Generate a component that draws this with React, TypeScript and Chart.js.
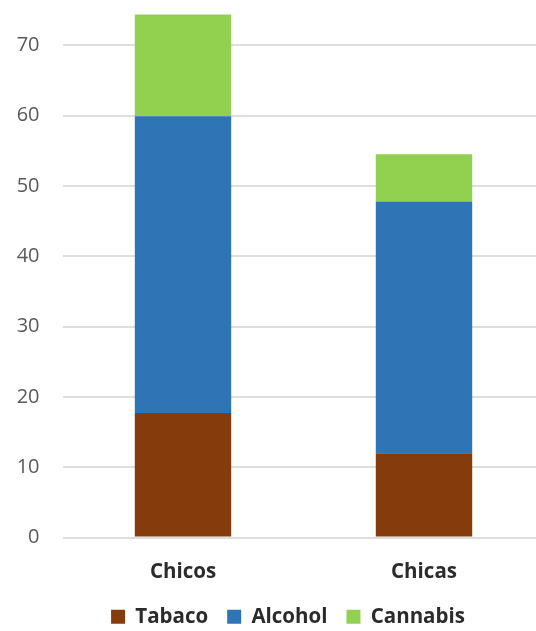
import React, { useEffect, useRef } from "react";
import { Chart, registerables } from "chart.js";

Chart.register(...registerables);

// Categories and stacked series (percent)
const categories = ["Chicos", "Chicas"];
const seriesNames = ["Tabaco", "Alcohol", "Cannabis"];
const tabaco = [17.7, 12.0];
const alcohol = [42.2, 35.8];
const cannabis = [14.5, 6.7];
const seriesColors = ["#843C0C", "#2E75B6", "#92D050"];

const yMin = 0;
const yMax = 80;
const yStep = 10;

const FONT = "'Open Sans', sans-serif";

export default function App() {
  const canvasRef = useRef<HTMLCanvasElement>(null);

  useEffect(() => {
    if (!canvasRef.current) return;
    const values = [tabaco, alcohol, cannabis];
    const chart = new Chart(canvasRef.current, {
      type: "bar",
      data: {
        labels: categories,
        datasets: seriesNames.map((name, i) => ({
          label: name,
          data: values[i],
          backgroundColor: seriesColors[i],
          borderWidth: 0,
          yAxisID: "y",
          categoryPercentage: 1,
          barPercentage: 0.4,
        })),
      },
      options: {
        animation: false,
        responsive: true,
        maintainAspectRatio: false,
        events: [],
        layout: { padding: { top: 20, left: 0, right: 0, bottom: 0 } },
        plugins: {
          tooltip: { enabled: false },
          legend: {
            position: "bottom",
            labels: {
              boxWidth: 14,
              boxHeight: 14,
              padding: 19,
              color: "#2b2b2b",
              font: { family: FONT, size: 20.5, weight: "bold" },
            },
          },
        },
        scales: {
          x: {
            stacked: true,
            grid: { display: false, drawTicks: false },
            border: { display: false },
            ticks: {
              color: "#2b2b2b",
              padding: 21.9,
              font: { family: FONT, size: 20.5, weight: "bold" },
            },
            afterFit: (scale: any) => {
              scale.height = 50;
            },
          },
          y: {
            stacked: true,
            min: yMin,
            max: yMax,
            position: "left",
            grid: { color: "#dedede", lineWidth: 2, drawTicks: false },
            border: { display: false },
            ticks: {
              stepSize: yStep,
              color: "#595959",
              padding: 23,
              font: { family: FONT, size: 20 },
            },
            afterFit: (scale: any) => {
              scale.width = 62.5;
              scale.paddingTop = 0;
              scale.paddingBottom = 0;
            },
          },
          yRight: {
            type: "linear",
            position: "right",
            display: true,
            grid: { display: false, drawTicks: false },
            border: { display: false },
            ticks: { display: false },
            afterFit: (scale: any) => {
              scale.width = 31.5;
            },
          },
        },
      },
    });
    return () => chart.destroy();
  }, []);

  return (
    <div
      style={{
        position: "fixed",
        left: 0,
        top: 0,
        width: 536,
        height: 631,
        overflow: "hidden",
        background: "#ffffff",
      }}
    >
      <div style={{ position: "absolute", left: 0, top: -45, width: 576, height: 682 }}>
        <canvas ref={canvasRef} />
      </div>
    </div>
  );
}
